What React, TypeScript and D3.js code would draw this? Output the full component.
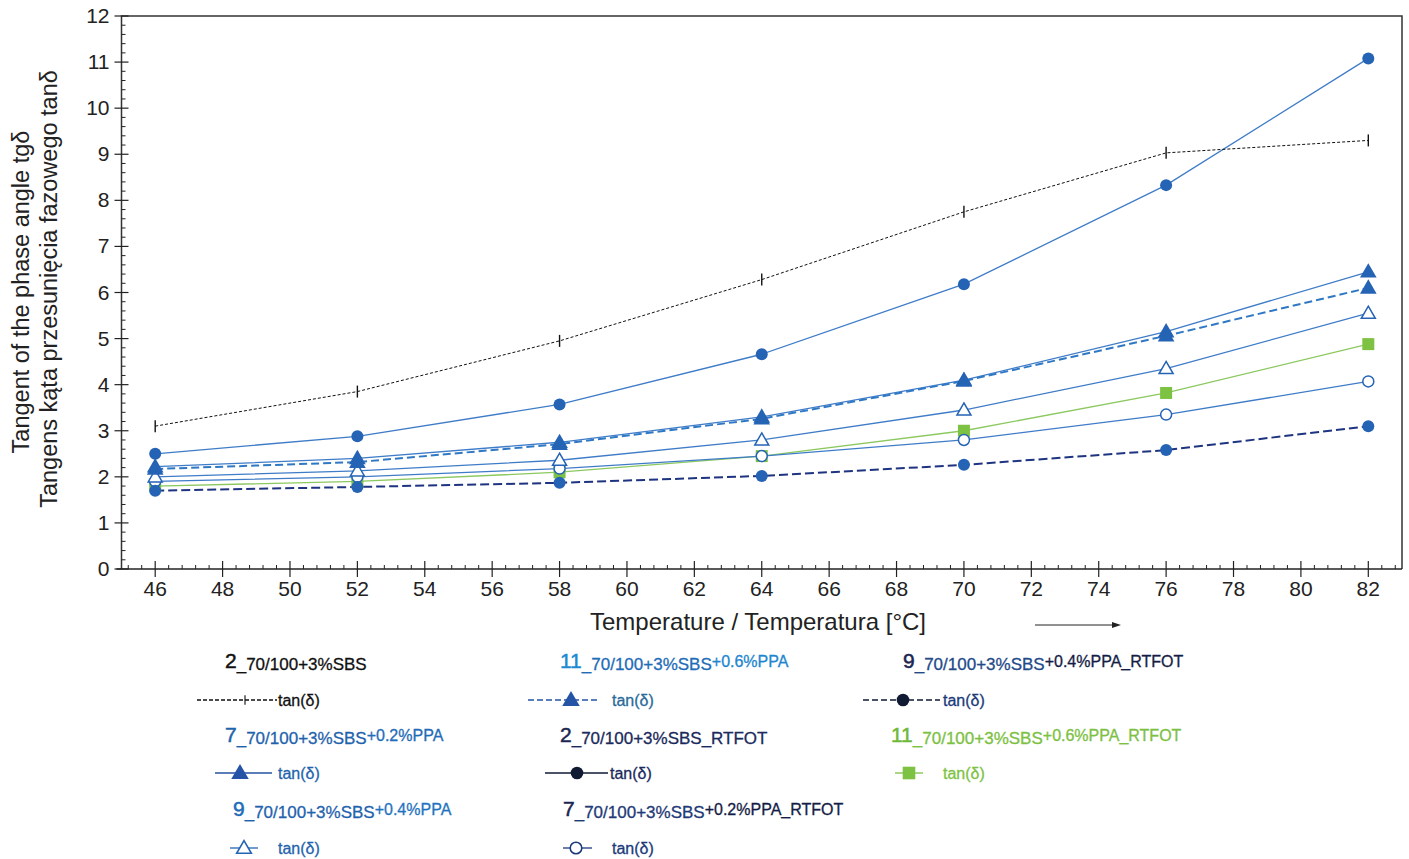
import React from 'react';
import * as d3 from 'd3';

const temps = [46, 52, 58, 64, 70, 76, 82];
const s2 = [3.1, 3.85, 4.95, 6.28, 7.75, 9.03, 9.3];
const s2R = [2.5, 2.88, 3.57, 4.66, 6.18, 8.33, 11.08];
const s7 = [2.22, 2.4, 2.75, 3.3, 4.1, 5.15, 6.45];
const s11 = [2.17, 2.32, 2.71, 3.26, 4.08, 5.06, 6.1];
const s9 = [2.0, 2.13, 2.36, 2.8, 3.45, 4.35, 5.55];
const s7R = [1.9, 2.0, 2.18, 2.45, 2.8, 3.35, 4.07];
const s9R = [1.7, 1.78, 1.87, 2.02, 2.26, 2.58, 3.1];
const s11R = [1.8, 1.9, 2.1, 2.45, 3.0, 3.82, 4.88];

const xTicks = [46, 48, 50, 52, 54, 56, 58, 60, 62, 64, 66, 68, 70, 72, 74, 76, 78, 80, 82];
const yTicks = [0, 1, 2, 3, 4, 5, 6, 7, 8, 9, 10, 11, 12];

const BLUE = '#2563b5';
const LINEBLUE = '#3f7cc8';
const NAVY = '#1e3480';
const GREEN = '#7dc242';
const FONT = '"Liberation Sans", Arial, sans-serif';

type Marker = 'tick' | 'circle' | 'tri' | 'otri' | 'ocircle' | 'square';
interface Series { key: string; values: number[]; stroke: string; width: number; dash?: string; marker: Marker; mfill: string; }

const series: Series[] = [
  { key: 's11R', values: s11R, stroke: '#8cc860', width: 1.3, marker: 'square', mfill: GREEN },
  { key: 's7R', values: s7R, stroke: LINEBLUE, width: 1.3, marker: 'ocircle', mfill: BLUE },
  { key: 's9', values: s9, stroke: LINEBLUE, width: 1.3, marker: 'otri', mfill: BLUE },
  { key: 's9R', values: s9R, stroke: NAVY, width: 2, dash: '9,4', marker: 'circle', mfill: BLUE },
  { key: 's7', values: s7, stroke: LINEBLUE, width: 1.3, marker: 'tri', mfill: BLUE },
  { key: 's11', values: s11, stroke: '#2f78c4', width: 2, dash: '8,4', marker: 'tri', mfill: BLUE },
  { key: 's2R', values: s2R, stroke: LINEBLUE, width: 1.3, marker: 'circle', mfill: BLUE },
  { key: 's2', values: s2, stroke: '#111', width: 1, dash: '3,2', marker: 'tick', mfill: '#111' },
];

const triPath = d3.symbol(d3.symbolTriangle, 120)() as string;
const triPathSmall = d3.symbol(d3.symbolTriangle, 85)() as string;

function MarkerShape({ type, x, y, fill, scale = 1 }: { type: Marker; x: number; y: number; fill: string; scale?: number }) {
  const t = `translate(${x},${y}) scale(${scale})`;
  switch (type) {
    case 'tick':
      return <g transform={t}><line x1={0} x2={0} y1={-6} y2={6} stroke="#111" strokeWidth={1.4} /></g>;
    case 'circle':
      return <g transform={t}><circle r={6} fill={fill} /></g>;
    case 'ocircle':
      return <g transform={t}><circle r={5.5} fill="#fff" stroke={fill} strokeWidth={1.5} /></g>;
    case 'tri':
      return <g transform={t}><path d={triPath} transform="translate(0,1)" fill={fill} /></g>;
    case 'otri':
      return <g transform={t}><path d={triPathSmall} transform="translate(0,1)" fill="#fff" stroke={fill} strokeWidth={1.5} /></g>;
    case 'square':
      return <g transform={t}><rect x={-6} y={-6} width={12} height={12} fill={fill} /></g>;
  }
  return null;
}

interface LegendTitle { col: number; row: number; dx: number; num: string; base: string; extra: string; numColor: string; color: string; extraColor: string; raised: boolean; }
interface LegendSym { col: number; row: number; x1: number; x2: number; mx: number; tx: number; dash?: string; stroke: string; marker: Marker; mfill: string; tcolor: string; }

const legendTitles: LegendTitle[] = [
  { col: 0, row: 0, dx: 0, num: '2', base: '_70/100+3%SBS', extra: '', numColor: '#111', color: '#111', extraColor: '#111', raised: false },
  { col: 0, row: 1, dx: 0, num: '7', base: '_70/100+3%SBS', extra: '+0.2%PPA', numColor: '#1f63ad', color: '#1f63ad', extraColor: '#1f6cb8', raised: true },
  { col: 0, row: 2, dx: 8, num: '9', base: '_70/100+3%SBS', extra: '+0.4%PPA', numColor: '#1f6cb8', color: '#1f63ad', extraColor: '#1f74c0', raised: true },
  { col: 1, row: 0, dx: 0, num: '11', base: '_70/100+3%SBS', extra: '+0.6%PPA', numColor: '#1d8ad2', color: '#1f6cb8', extraColor: '#1d86cf', raised: true },
  { col: 1, row: 1, dx: 0, num: '2', base: '_70/100+3%SBS', extra: '_RTFOT', numColor: '#1b2550', color: '#1b2a5c', extraColor: '#1b2a5c', raised: false },
  { col: 1, row: 2, dx: 3, num: '7', base: '_70/100+3%SBS', extra: '+0.2%PPA_RTFOT', numColor: '#1b2550', color: '#1f3a78', extraColor: '#141d45', raised: true },
  { col: 2, row: 0, dx: 0, num: '9', base: '_70/100+3%SBS', extra: '+0.4%PPA_RTFOT', numColor: '#1b2550', color: '#244a8a', extraColor: '#141d45', raised: true },
  { col: 2, row: 1, dx: -12, num: '11', base: '_70/100+3%SBS', extra: '+0.6%PPA_RTFOT', numColor: '#6fb83a', color: '#7cc142', extraColor: '#7cc142', raised: true },
];

const legendSyms: LegendSym[] = [
  { col: 0, row: 0, x1: 197, x2: 277, mx: 245, tx: 278, dash: '4,2', stroke: '#111', marker: 'tick', mfill: '#111', tcolor: '#111' },
  { col: 0, row: 1, x1: 215, x2: 272, mx: 240, tx: 278, stroke: '#2553a5', marker: 'tri', mfill: '#2553a5', tcolor: '#1f63ad' },
  { col: 0, row: 2, x1: 230, x2: 258, mx: 244, tx: 278, stroke: '#2563b5', marker: 'otri', mfill: '#2563b5', tcolor: '#1f63ad' },
  { col: 1, row: 0, x1: 528, x2: 600, mx: 571, tx: 612, dash: '6,3', stroke: '#2553a5', marker: 'tri', mfill: '#2553a5', tcolor: '#2a6a9a' },
  { col: 1, row: 1, x1: 545, x2: 608, mx: 577, tx: 610, stroke: '#111a33', marker: 'circle', mfill: '#111a33', tcolor: '#1b2a5c' },
  { col: 1, row: 2, x1: 563, x2: 592, mx: 576, tx: 612, stroke: '#1b3a7a', marker: 'ocircle', mfill: '#1b3a7a', tcolor: '#1b3a7a' },
  { col: 2, row: 0, x1: 863, x2: 940, mx: 903, tx: 943, dash: '6,3', stroke: '#111a33', marker: 'circle', mfill: '#111a33', tcolor: '#1b3a7a' },
  { col: 2, row: 1, x1: 895, x2: 923, mx: 909, tx: 943, stroke: GREEN, marker: 'square', mfill: GREEN, tcolor: GREEN },
];

export default function App() {
  const W = 1409, H = 859;
  const left = 121.5, right = 1402, top = 16, bottom = 569;
  const x = d3.scaleLinear().domain([45, 83]).range([left, right]);
  const y = d3.scaleLinear().domain([0, 12]).range([bottom, top]);
  const line = d3.line<number>().x((_, i) => x(temps[i])).y(d => y(d));

  const xMinor = d3.range(45.2, 83, 0.4).filter(v => Math.abs(v / 2 - Math.round(v / 2)) > 0.01);
  const yMinor = d3.range(0.2, 12, 0.2).filter(v => Math.abs(v - Math.round(v)) > 0.01);

  const colTitleX = [225, 560, 903];
  const titleRowY = [668, 742, 816];
  const symRowY = [700, 773, 848];

  return (
    <svg width={W} height={H} style={{ position: 'absolute', left: 0, top: 0, background: '#fff' }} fontFamily={FONT}>
      <rect width={W} height={H} fill="#fff" />
      {/* frame */}
      <path d={`M${left},${bottom} V${top} H${right} V${bottom}`} fill="none" stroke="#333" strokeWidth={1.5} />
      <line x1={left - 5} x2={right} y1={bottom} y2={bottom} stroke="#222" strokeWidth={1.5} />
      {/* y ticks */}
      {yTicks.map(t => (
        <g key={'yt' + t}>
          <line x1={left - 7} x2={left + 7} y1={y(t)} y2={y(t)} stroke="#222" strokeWidth={1.2} />
          <text x={left - 12} y={y(t) + 7} textAnchor="end" fontSize={21} fill="#222">{t}</text>
        </g>
      ))}
      {yMinor.map(t => (
        <line key={'ym' + t} x1={left} x2={left + 4} y1={y(t)} y2={y(t)} stroke="#222" strokeWidth={1} />
      ))}
      {/* x ticks */}
      {xTicks.map(t => (
        <g key={'xt' + t}>
          <line x1={x(t)} x2={x(t)} y1={bottom - 8} y2={bottom + 8} stroke="#222" strokeWidth={1.2} />
          <text x={x(t)} y={bottom + 27} textAnchor="middle" fontSize={21} fill="#222">{t}</text>
        </g>
      ))}
      {xMinor.map(t => (
        <line key={'xm' + t} x1={x(t)} x2={x(t)} y1={bottom - 4} y2={bottom} stroke="#222" strokeWidth={1} />
      ))}
      {/* axis titles */}
      <text transform="translate(29,292) rotate(-90)" textAnchor="middle" fontSize={23.5} fill="#222">Tangent of the phase angle tgδ</text>
      <text transform="translate(57,289) rotate(-90)" textAnchor="middle" fontSize={23.5} fill="#222">Tangens kąta przesunięcia fazowego tanδ</text>
      <text x={758} y={630} textAnchor="middle" fontSize={24} fill="#222">Temperature / Temperatura [°C]</text>
      <line x1={1035} x2={1114} y1={625} y2={625} stroke="#222" strokeWidth={1} />
      <path d="M1121,625 L1112,622 L1112,628 Z" fill="#222" />

      {/* series */}
      {series.map(s => (
        <path key={'l' + s.key} d={line(s.values) as string} fill="none" stroke={s.stroke} strokeWidth={s.width} strokeDasharray={s.dash} />
      ))}
      {series.map(s => (
        <g key={'m' + s.key}>
          {s.values.map((v, i) => (
            <MarkerShape key={i} type={s.marker} x={x(temps[i])} y={y(v)} fill={s.mfill} />
          ))}
        </g>
      ))}

      {/* legend */}
      {legendTitles.map((lt, i) => (
        <text key={'lt' + i} x={colTitleX[lt.col] + lt.dx} y={titleRowY[lt.row]} fontSize={17}>
          <tspan fontSize={21} fill={lt.numColor} stroke={lt.numColor} strokeWidth={0.5}>{lt.num}</tspan>
          <tspan dy={2} fill={lt.color} stroke={lt.color} strokeWidth={0.3}>{lt.base}</tspan>
          {lt.extra && <tspan dy={lt.raised ? -3 : 0} fontSize={lt.raised ? 16 : 17} fill={lt.extraColor} stroke={lt.extraColor} strokeWidth={0.3}>{lt.extra}</tspan>}
        </text>
      ))}
      {legendSyms.map((ls, i) => (
        <g key={'ls' + i}>
          <line x1={ls.x1} x2={ls.x2} y1={symRowY[ls.row]} y2={symRowY[ls.row]} stroke={ls.stroke} strokeWidth={1.3} strokeDasharray={ls.dash} />
          <MarkerShape type={ls.marker} x={ls.mx} y={symRowY[ls.row]} fill={ls.mfill} scale={ls.marker === 'tick' ? 0.8 : 1.05} />
          <text x={ls.tx} y={symRowY[ls.row] + 6} fontSize={16} fill={ls.tcolor} stroke={ls.tcolor} strokeWidth={0.3}>tan(δ)</text>
        </g>
      ))}
    </svg>
  );
}
